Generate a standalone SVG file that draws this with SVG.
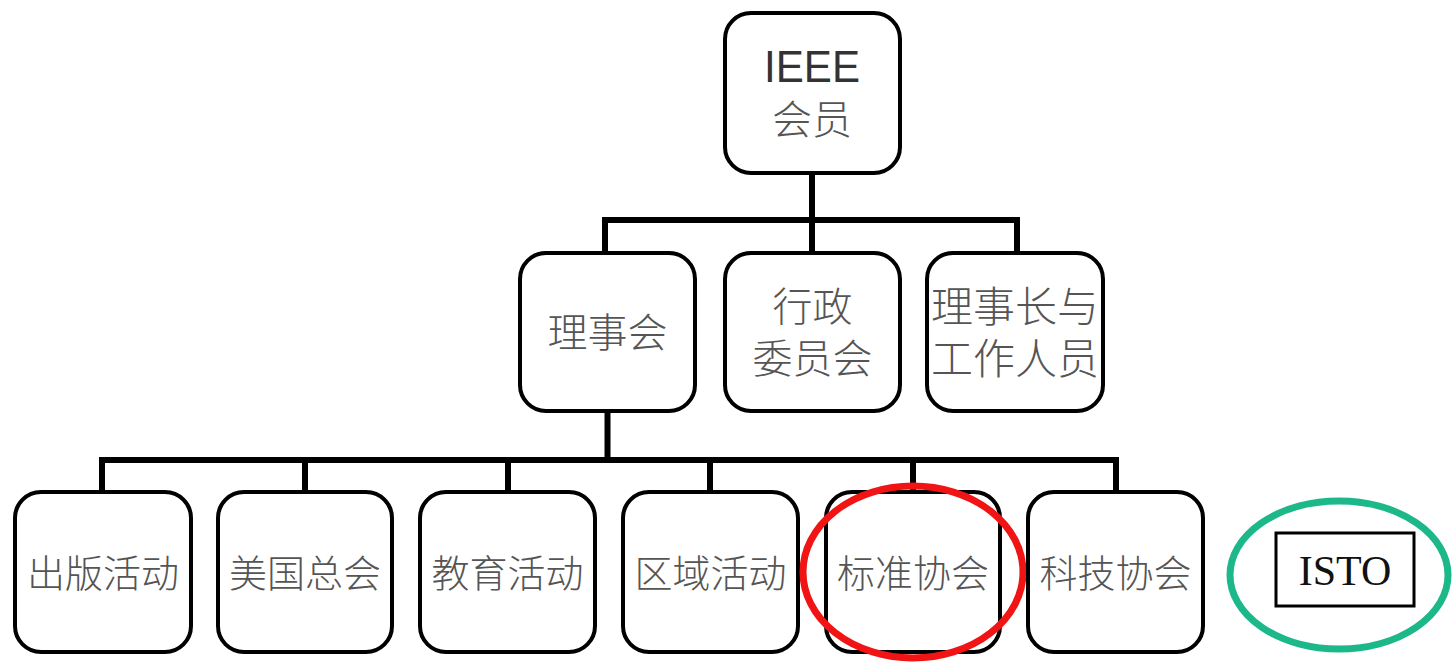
<svg xmlns="http://www.w3.org/2000/svg" width="1455" height="663" viewBox="0 0 1455 663">
<style>
.box{fill:#fff;stroke:#000;stroke-width:4}
.ln{stroke:#000;stroke-width:6;fill:none;stroke-linecap:butt}
.cn{font-family:"Liberation Sans","Noto Sans CJK SC",sans-serif;font-weight:300;fill:#555;text-anchor:middle;dominant-baseline:central}
.t40{font-size:40px}
.t38{font-size:38px}
</style>
<rect width="1455" height="663" fill="#fff"/>
<g id="connectors">
<path class="ln" d="M812 173V220M605 220H1017M605 217V253M812 220V253M1017 217V253"/>
<path class="ln" d="M607.5 411V460M102 460H1117M102 457V492M305 460V492M508 460V492M710 460V492M913 460V492M1116 457V492"/>
</g>
<g id="ieee">
<rect class="box" x="725" y="13" width="175" height="160" rx="26"/>
<text class="cn" x="812" y="66" style="font-size:44px;fill:#333" textLength="96" lengthAdjust="spacingAndGlyphs">IEEE</text>
<text class="cn t40" x="812" y="120">会员</text>
</g>
<g id="lishihui">
<rect class="box" x="520" y="253" width="175" height="158" rx="26"/>
<text class="cn t40" x="607.5" y="333">理事会</text>
</g>
<g id="xingzheng">
<rect class="box" x="725" y="253" width="175" height="158" rx="26"/>
<text class="cn t40" x="812.5" y="307">行政</text>
<text class="cn t40" x="812.5" y="359">委员会</text>
</g>
<g id="lishizhang">
<rect class="box" x="927" y="253" width="176" height="158" rx="26"/>
<text class="cn" x="1015" y="307" style="font-size:42px">理事长与</text>
<text class="cn" x="1015" y="359" style="font-size:42px">工作人员</text>
</g>
<g id="chuban">
<rect class="box" x="15" y="492" width="176" height="160" rx="26"/>
<text class="cn t38" x="103" y="574">出版活动</text>
</g>
<g id="meiguo">
<rect class="box" x="218" y="492" width="174" height="160" rx="26"/>
<text class="cn t38" x="305" y="574">美国总会</text>
</g>
<g id="jiaoyu">
<rect class="box" x="420" y="492" width="175" height="160" rx="26"/>
<text class="cn t38" x="507.5" y="574">教育活动</text>
</g>
<g id="quyu">
<rect class="box" x="623" y="492" width="175" height="160" rx="26"/>
<text class="cn t38" x="710.5" y="574">区域活动</text>
</g>
<g id="biaozhun">
<rect class="box" x="826" y="492" width="174" height="160" rx="26"/>
<text class="cn t38" x="913" y="574">标准协会</text>
<ellipse cx="913" cy="572" rx="110" ry="86" fill="none" stroke="#f01414" stroke-width="7"/>
</g>
<g id="keji">
<rect class="box" x="1028" y="492" width="175" height="160" rx="26"/>
<text class="cn t38" x="1115.5" y="574">科技协会</text>
</g>
<g id="isto">
<ellipse cx="1339" cy="575" rx="109" ry="74" fill="none" stroke="#1db88a" stroke-width="7"/>
<rect x="1276" y="533" width="138" height="73" fill="#fff" stroke="#000" stroke-width="3"/>
<text x="1345" y="571" style="font-family:'Liberation Serif',serif;font-size:42px;fill:#111;text-anchor:middle;dominant-baseline:central">ISTO</text>
</g>
</svg>
